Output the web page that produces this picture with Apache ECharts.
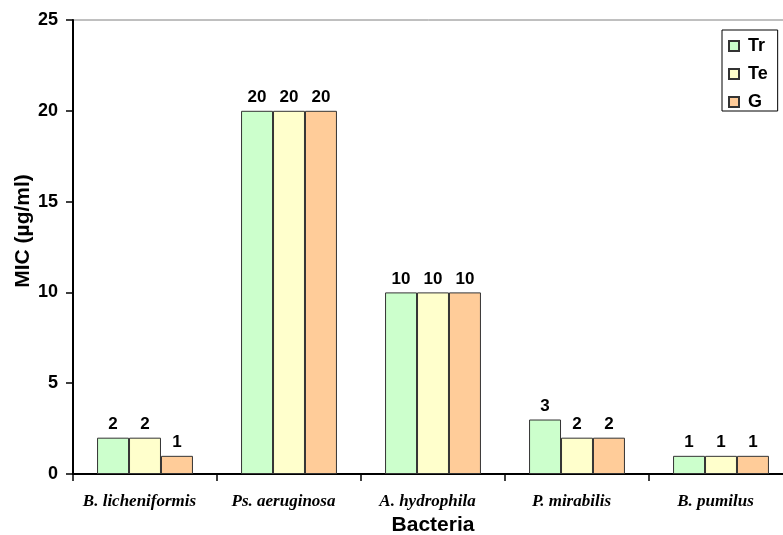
<!DOCTYPE html>
<html><head><meta charset="utf-8">
<script src="https://cdn.jsdelivr.net/npm/echarts@6/dist/echarts.min.js"></script>
<style>html,body{margin:0;padding:0;background:#fff}#c{width:783px;height:535px}</style>
</head><body><div id="c"></div>
<script>
const categories = ['B. licheniformis', 'Ps. aeruginosa', 'A. hydrophila', 'P. mirabilis', 'B. pumilus'];
const seriesNames = ['Tr', 'Te', 'G'];
const trValues = [2, 20, 10, 3, 1];
const teValues = [2, 20, 10, 2, 1];
const gValues = [1, 20, 10, 2, 1];
const yTicks = [0, 5, 10, 15, 20, 25];
const colors = ['#CCFFCC', '#FFFFCC', '#FFCC99'];

const chart = echarts.init(document.getElementById('c'));
const allVals = [trValues, teValues, gValues];
const sans = 'Liberation Sans, Arial, sans-serif';
chart.setOption({
  animation: false,
  grid: { left: 73, top: 20, width: 720, height: 454, outerBoundsMode: 'none', containLabel: false,
    show: true, borderColor: '#808080', borderWidth: 1, backgroundColor: 'transparent' },
  legend: {
    orient: 'vertical', left: 722, top: 30,
    icon: 'rect',
    itemWidth: 10, itemHeight: 10, itemGap: 10,
    borderColor: '#000', borderWidth: 1, padding: [7, 10, 0, 6],
    textStyle: { fontFamily: sans, fontWeight: 'bold', fontSize: 18, color: '#000', padding: [0, 0, 0, 4] },
    data: seriesNames
  },
  xAxis: {
    type: 'category', data: categories,
    name: 'Bacteria', nameLocation: 'middle', nameGap: 41, nameMoveOverlap: false,
    nameTextStyle: { fontFamily: sans, fontWeight: 'bold', fontSize: 21, color: '#000' },
    axisLine: { lineStyle: { color: '#000', width: 2 } },
    axisTick: { show: true, length: 7, lineStyle: { color: '#000', width: 1.5 } },
    axisLabel: { interval: 0, fontFamily: 'Liberation Serif, Times New Roman, serif', fontStyle: 'italic', fontWeight: 'bold', fontSize: 17, color: '#000', margin: 19, padding: [0, 11, 0, 0] }
  },
  yAxis: {
    type: 'value', min: 0, max: 25, interval: 5,
    name: 'MIC (µg/ml)', nameLocation: 'middle', nameGap: 39, nameMoveOverlap: false,
    nameTextStyle: { fontFamily: sans, fontWeight: 'bold', fontSize: 21, color: '#000', padding: [0, 0, 0, 32] },
    axisLine: { show: true, lineStyle: { color: '#000', width: 2 } },
    axisTick: { show: true, length: 7, lineStyle: { color: '#000', width: 1.5 } },
    splitLine: { show: false },
    axisLabel: { fontFamily: sans, fontWeight: 'bold', fontSize: 18, color: '#000', margin: 15,
      formatter: v => yTicks.includes(v) ? String(v) : '' }
  },
  series: seriesNames.map((n, i) => ({
    name: n, type: 'bar', data: allVals[i],
    barGap: '0%', barCategoryGap: '33.4%',
    itemStyle: { color: colors[i], borderColor: '#333', borderWidth: 1 },
    label: { show: true, position: 'top', distance: 5, fontFamily: sans, fontWeight: 'bold', fontSize: 17, color: '#000' }
  }))
});
</script></body></html>
